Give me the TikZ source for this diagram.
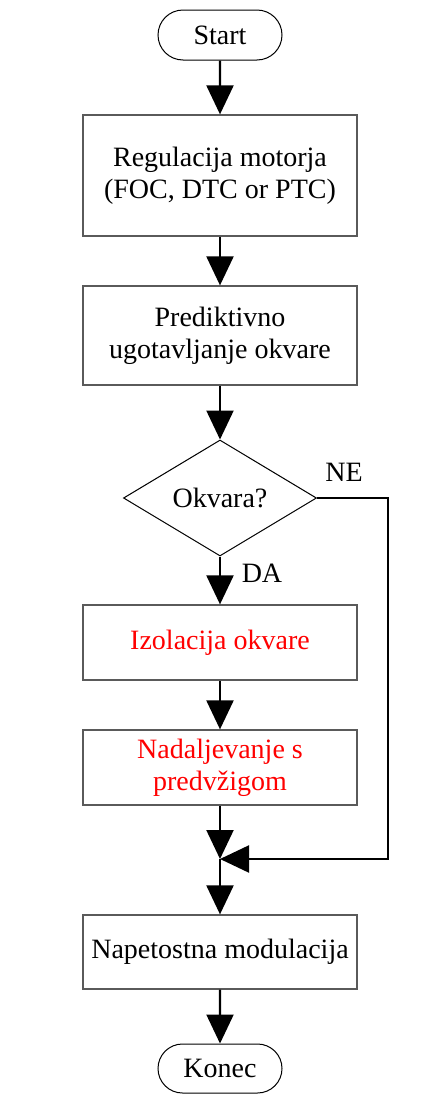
\documentclass[tikz,border=0pt]{standalone}
\usepackage{fontspec}
\setmainfont{Liberation Serif}
\usetikzlibrary{arrows.meta,shapes.misc,shapes.geometric}
\definecolor{boxgray}{HTML}{5A5A5A}
\definecolor{txtred}{HTML}{FF0000}
\tikzset{
  term/.style={rounded rectangle, draw=black, line width=1pt, minimum width=124pt, minimum height=50pt, inner sep=0pt},
  proc/.style={rectangle, draw=boxgray, line width=1.3pt, minimum width=274pt, align=center, inner sep=0pt, fill=white},
  dec/.style={diamond, draw=black, line width=1pt, minimum width=193pt, minimum height=116pt, aspect=1.66, inner sep=0pt},
  arr/.style={line width=2.2pt, -{Triangle[width=27pt,length=29pt]}},
  lbl/.style={inner sep=0pt},
  every node/.style={font=\fontsize{28pt}{32pt}\selectfont}
}
\begin{document}
\begin{tikzpicture}[x=1pt,y=-1pt]
\useasboundingbox (0,0) rectangle (423,1095);
\node[term] (start) at (220,35) {Start};
\node[proc, minimum height=121pt] (b1) at (220,175.5) {Regulacija motorja\\(FOC, DTC or PTC)};
\node[proc, minimum height=99pt] (b2) at (220,335.5) {Prediktivno\\ugotavljanje okvare};
\node[dec] (d) at (220,498) {Okvara?};
\node[proc, minimum height=75pt, text=txtred] (b3) at (220,642.5) {Izolacija okvare};
\node[proc, minimum height=75pt, text=txtred] (b4) at (220,767.5) {Nadaljevanje s\\predvžigom};
\node[proc, minimum height=74pt] (b5) at (220,952) {Napetostna modulacija};
\node[term, minimum height=49pt] (konec) at (220,1068.5) {Konec};
\node[lbl] (ne) at (344,472) {NE};
\node[lbl] (da) at (262,573) {DA};
\coordinate (j) at (220,859);
\coordinate (rx) at (388,0);
\draw[arr] (start) -- (b1);
\draw[arr] (b1) -- (b2);
\draw[arr] (b2) -- (d);
\draw[arr] (d.south) -- (b3);
\draw[arr] (b3) -- (b4);
\draw[arr] (b4) -- (j);
\draw[arr] (d.east) -- (d.east -| rx) -- (j -| rx) -- (j);
\draw[arr] (j) -- (b5);
\draw[arr] (b5) -- (konec);
\end{tikzpicture}
\end{document}
